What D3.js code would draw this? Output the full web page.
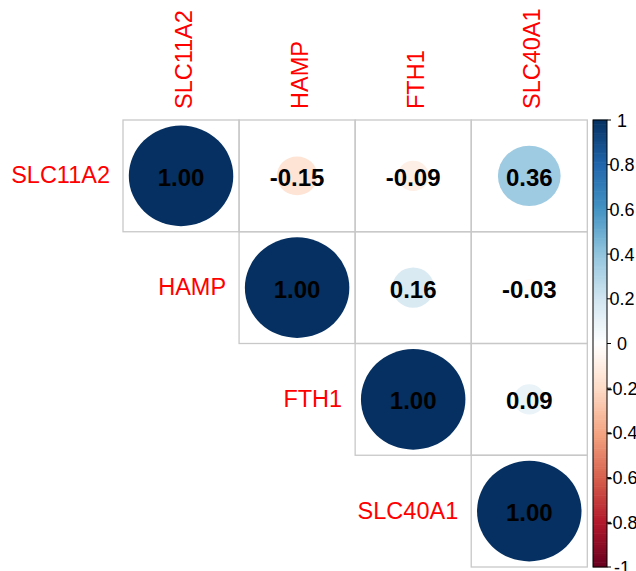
<!DOCTYPE html>
<html>
<head>
<meta charset="utf-8">
<script src="https://cdn.jsdelivr.net/npm/d3@7"></script>
<style>
  html, body { margin: 0; padding: 0; background: #fff; }
  svg { display: block; }
</style>
</head>
<body>
<svg id="chart" width="636" height="571"></svg>
<script>
// Gene names (rows and columns of the correlation matrix)
const genes = ["SLC11A2", "HAMP", "FTH1", "SLC40A1"];

// Upper-triangle correlation values, one array per row (starting at the diagonal)
const rowSLC11A2 = [1.00, -0.15, -0.09, 0.36];
const rowHAMP    = [1.00, 0.16, -0.03];
const rowFTH1    = [1.00, 0.09];
const rowSLC40A1 = [1.00];
const upperRows  = [rowSLC11A2, rowHAMP, rowFTH1, rowSLC40A1];

// Colour legend ticks
const legendTicks = [1, 0.8, 0.6, 0.4, 0.2, 0, -0.2, -0.4, -0.6, -0.8, -1];
const legendTickLabels = ["1", "0.8", "0.6", "0.4", "0.2", "0", "-0.2", "-0.4", "-0.6", "-0.8", "-1"];

// Diverging red-blue palette stops
const paletteStops = ["#67001F", "#B2182B", "#D6604D", "#F4A582", "#FDDBC7",
                      "#FFFFFF", "#D1E5F0", "#92C5DE", "#4393C3", "#2166AC", "#053061"];

const svg = d3.select("#chart");
const font = "'Liberation Sans', Arial, sans-serif";
const fmt = v => d3.format(".2f")(v).replace("\u2212", "-");

// Flatten upper triangle into cells
const cells = [];
upperRows.forEach((vals, i) => {
  vals.forEach((v, k) => {
    const j = i + k;
    cells.push({ row: genes[i], col: genes[j], i, j, value: v });
  });
});

const x = d3.scaleBand().domain(genes).range([123, 587.3]).padding(0);
const y = d3.scaleBand().domain(genes).range([120, 567]).padding(0);

const color = d3.scaleLinear()
  .domain(d3.range(paletteStops.length).map(k => -1 + 2 * k / (paletteStops.length - 1)))
  .range(paletteStops)
  .interpolate(d3.interpolateRgb)
  .clamp(true);

// Cell borders
svg.append("g")
  .selectAll("rect")
  .data(cells)
  .join("rect")
  .attr("x", d => x(d.col))
  .attr("y", d => y(d.row))
  .attr("width", x.bandwidth())
  .attr("height", y.bandwidth())
  .attr("fill", "none")
  .attr("stroke", "#c8c8c8")
  .attr("stroke-width", 1.3);

// Circles: area proportional to |r|
svg.append("g")
  .selectAll("ellipse")
  .data(cells)
  .join("ellipse")
  .attr("cx", d => x(d.col) + x.bandwidth() / 2)
  .attr("cy", d => y(d.row) + y.bandwidth() / 2)
  .attr("rx", d => 0.45 * x.bandwidth() * Math.sqrt(Math.abs(d.value)))
  .attr("ry", d => 0.45 * y.bandwidth() * Math.sqrt(Math.abs(d.value)))
  .attr("fill", d => color(d.value));

// Coefficient labels
svg.append("g")
  .selectAll("text")
  .data(cells)
  .join("text")
  .attr("x", d => x(d.col) + x.bandwidth() / 2)
  .attr("y", d => y(d.row) + y.bandwidth() / 2 + 10)
  .attr("text-anchor", "middle")
  .attr("font-family", font)
  .attr("font-weight", "bold")
  .attr("font-size", 24)
  .attr("fill", "#000")
  .text(d => fmt(d.value));

// Row labels (left of each diagonal cell)
svg.append("g")
  .selectAll("text")
  .data(genes)
  .join("text")
  .attr("x", d => x(d) - 13)
  .attr("y", d => y(d) + y.bandwidth() / 2 + 7.5)
  .attr("text-anchor", "end")
  .attr("font-family", font)
  .attr("font-size", 23.5)
  .attr("fill", "#FF0000")
  .text(d => d);

// Column labels (vertical, above the grid)
svg.append("g")
  .selectAll("text")
  .data(genes)
  .join("text")
  .attr("transform", d => `translate(${x(d) + x.bandwidth() / 2 + 11},109) rotate(-90)`)
  .attr("text-anchor", "start")
  .attr("font-family", font)
  .attr("font-size", 23.5)
  .attr("fill", "#FF0000")
  .text(d => d);

// Colour legend
const legendScale = d3.scaleLinear().domain([-1, 1]).range([567, 120]);
const barX = 593, barW = 14;
const nSteps = 200;
const steps = d3.range(nSteps).map(k => -1 + 2 * (k + 0.5) / nSteps);
const stepH = (legendScale(-1) - legendScale(1)) / nSteps;

const legend = svg.append("g");
legend.selectAll("rect.step")
  .data(steps)
  .join("rect")
  .attr("class", "step")
  .attr("x", barX)
  .attr("y", d => legendScale(d) - stepH / 2 - 0.3)
  .attr("width", barW)
  .attr("height", stepH + 0.6)
  .attr("fill", d => color(d));

legend.append("rect")
  .attr("x", barX)
  .attr("y", legendScale(1))
  .attr("width", barW)
  .attr("height", legendScale(-1) - legendScale(1))
  .attr("fill", "none")
  .attr("stroke", "#000")
  .attr("stroke-width", 1);

legend.selectAll("line.tick")
  .data(legendTicks)
  .join("line")
  .attr("class", "tick")
  .attr("x1", barX + barW)
  .attr("x2", barX + barW + 4)
  .attr("y1", d => legendScale(d))
  .attr("y2", d => legendScale(d))
  .attr("stroke", "#000")
  .attr("stroke-width", 1);

legend.selectAll("text")
  .data(legendTicks)
  .join("text")
  .attr("x", 622)
  .attr("y", d => legendScale(d) + 6.5)
  .attr("text-anchor", "middle")
  .attr("font-family", font)
  .attr("font-size", 18)
  .attr("fill", "#000")
  .text((d, k) => legendTickLabels[k]);
</script>
</body>
</html>
